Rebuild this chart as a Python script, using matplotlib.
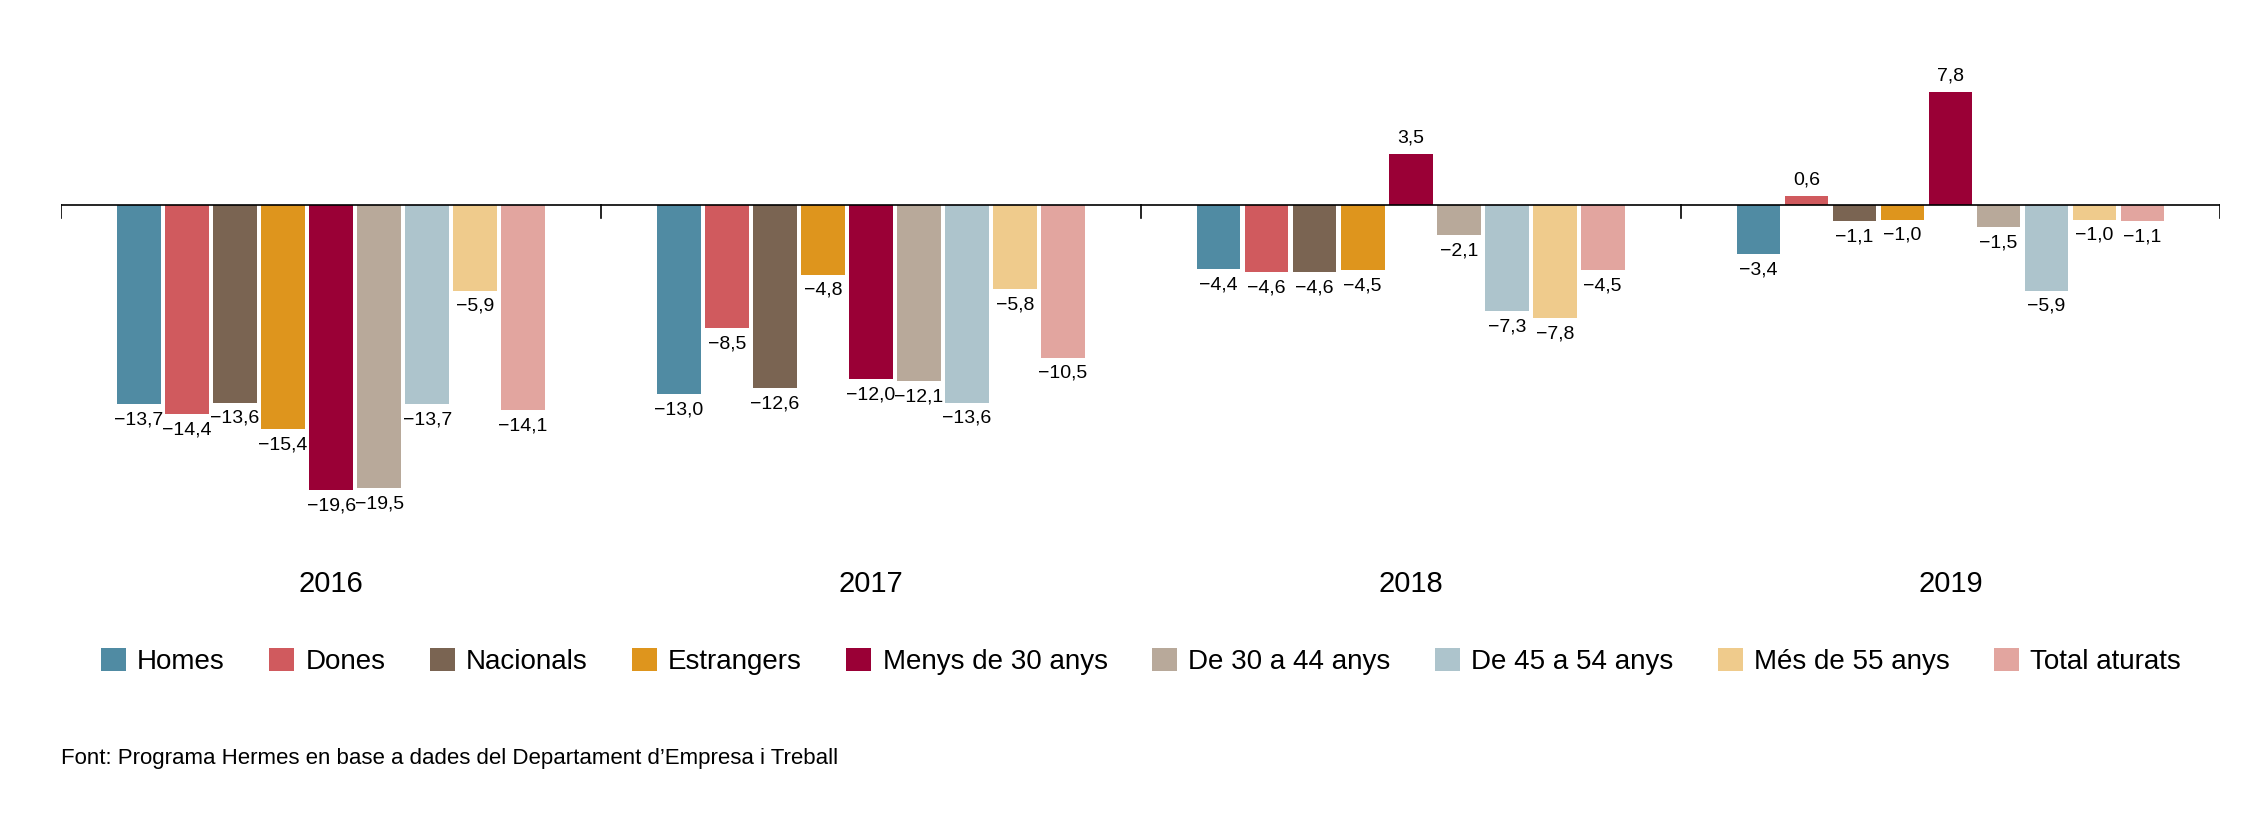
import matplotlib
matplotlib.use("Agg")
import matplotlib.pyplot as plt
import numpy as np

plt.rcParams['font.family'] = ['Liberation Sans', 'DejaVu Sans']

years = ['2016', '2017', '2018', '2019']
series = ['Homes', 'Dones', 'Nacionals', 'Estrangers', 'Menys de 30 anys',
          'De 30 a 44 anys', 'De 45 a 54 anys', 'Més de 55 anys', 'Total aturats']
colors = ['#508ba3', '#d05a5e', '#7a6452', '#de951d', '#9a0036',
          '#b8a99a', '#adc4cc', '#efcb8c', '#e2a59f']
values = [
    [-13.7, -13.0, -4.4, -3.4],
    [-14.4, -8.5, -4.6, 0.6],
    [-13.6, -12.6, -4.6, -1.1],
    [-15.4, -4.8, -4.5, -1.0],
    [-19.6, -12.0, 3.5, 7.8],
    [-19.5, -12.1, -2.1, -1.5],
    [-13.7, -13.6, -7.3, -5.9],
    [-5.9, -5.8, -7.8, -1.0],
    [-14.1, -10.5, -4.5, -1.1],
]
source = "Font: Programa Hermes en base a dades del Departament d\u2019Empresa i Treball"

fig = plt.figure(figsize=(22.68, 8.33), dpi=100)
ax = fig.add_axes([0.027, 0.337, 0.952, 0.628])
step = 33 / 371
width = 30 / 371
x = np.arange(len(years))
for i, (name, col, vals) in enumerate(zip(series, colors, values)):
    xs = x + (i - 4) * step
    ax.bar(xs, vals, width=width, color=col, label=name)
    for xi, v in zip(xs, vals):
        lab = f"{v:.1f}".replace('.', ',').replace('-', '\u2212')
        if v < 0:
            ax.text(xi, v - 0.5, lab, ha='center', va='top', fontsize=14)
        else:
            ax.text(xi, v + 0.5, lab, ha='center', va='bottom', fontsize=14)

ax.set_xlim(-0.5, 3.5)
ax.set_ylim(-23.9, 12.1)
ax.axhline(0, color='black', lw=1.2)
for s in ax.spines.values():
    s.set_visible(False)
ax.set_yticks([])
ax.set_xticks([-0.5, 0.5, 1.5, 2.5, 3.5])
ax.set_xticklabels([])
ax.tick_params(axis='x', length=0)
for t in [-0.5, 0.5, 1.5, 2.5, 3.5]:
    ax.plot([t, t], [0, -0.9], color='black', lw=1.2)
for xi, y in zip(x, years):
    ax.text(xi, -26.1, y, ha='center', va='center', fontsize=21, clip_on=False)

fig.legend(loc='center', bbox_to_anchor=(0.503, 0.206), ncol=9, frameon=False,
           fontsize=20, handlelength=0.9, handleheight=0.9, handletextpad=0.4,
           columnspacing=1.6)
fig.text(0.027, 0.089, source, fontsize=16, ha='left', va='center')
fig.savefig('out.png', dpi=100)
